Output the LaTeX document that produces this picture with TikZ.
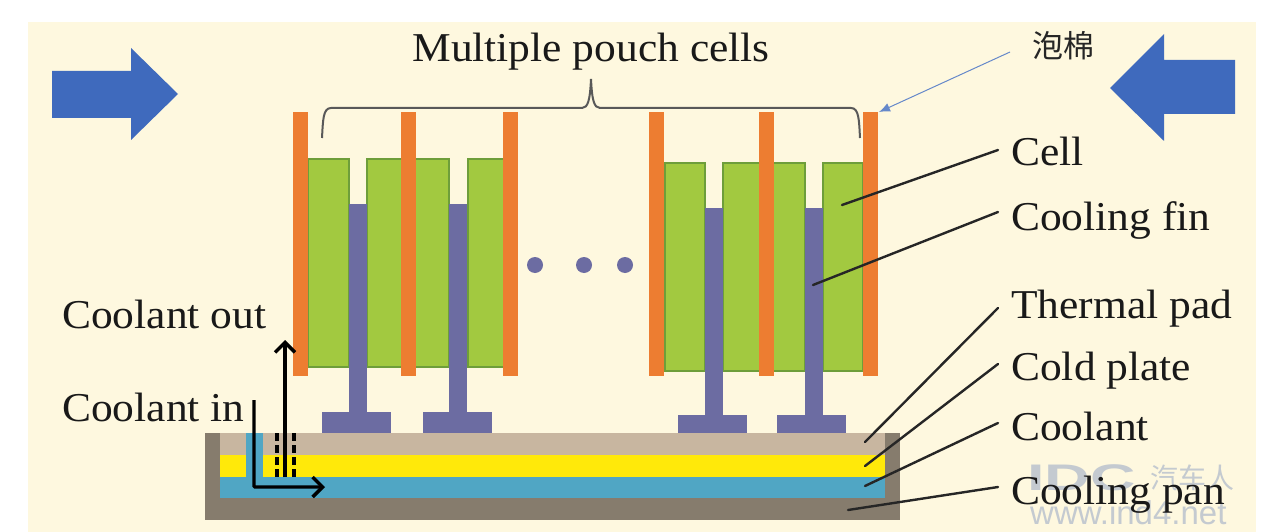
\documentclass[tikz,border=0pt]{standalone}
\usepackage{fontspec}
\setmainfont[FakeStretch=1.06]{Liberation Serif}
\newfontfamily\cjkfont{Noto Sans CJK SC}
\newfontfamily\sitefont{Liberation Sans}
\usetikzlibrary{arrows.meta}
\definecolor{paper}{HTML}{FEF8DF}
\definecolor{foam}{HTML}{ED7D31}
\definecolor{cellgreen}{HTML}{A2C940}
\definecolor{celledge}{HTML}{6E9E3A}
\definecolor{finpurple}{HTML}{6C6CA2}
\definecolor{panbrown}{HTML}{867C6D}
\definecolor{padtan}{HTML}{C8B6A0}
\definecolor{plateyellow}{HTML}{FFE90A}
\definecolor{coolblue}{HTML}{50A6C4}
\definecolor{pushblue}{HTML}{3F6ABD}
\definecolor{markgray}{HTML}{C4CAD0}
\tikzset{
	lbl/.style={inner sep=0pt, anchor=west, font=\fontsize{41}{41}\selectfont, text=black!90},
	leader/.style={draw=black!85, line width=2.4pt, line cap=round},
	flow/.style={draw=black, line width=3.4pt, -{Straight Barb[length=10pt,width=20pt,line width=3.4pt]}},
}
\newcommand{\drawcell}[3]{%
	\fill[cellgreen, draw=celledge, line width=1.6pt] (#1,#3) rectangle (#2,#3+208);
}
\newcommand{\drawfin}[5]{%
	\fill[finpurple] (#1,#3) rectangle (#1+18,#5);
	\fill[finpurple] (#2,#5) rectangle (#2+69,#4);
}
\begin{document}
\begin{tikzpicture}[x=1pt,y=-1pt]
	\useasboundingbox (0,0) rectangle (1263,532);
	\fill[paper] (28,22) rectangle (1256,532);
	% push arrows
	\fill[pushblue] (52,71) -- (131,71) -- (131,48) -- (178,94) -- (131,140) -- (131,118) -- (52,118) -- cycle;
	\fill[pushblue] (1235,60) -- (1164,60) -- (1164,34) -- (1110,88) -- (1164,141) -- (1164,114) -- (1235,114) -- cycle;
	% pouch cells
	\drawcell{308}{349}{159}
	\drawcell{367}{449}{159}
	\drawcell{468}{504}{159}
	\drawcell{665}{705}{163}
	\drawcell{723}{805}{163}
	\drawcell{823}{863}{163}
	\drawfin{349}{322}{204}{434}{412}
	\drawfin{449}{423}{204}{434}{412}
	\drawfin{705}{678}{208}{434}{415}
	\drawfin{805}{777}{208}{437}{415}
	\foreach \x in {293,401,503,649,759,863}{
		\fill[foam] (\x,112) rectangle (\x+15,376);
	}
	\foreach \x in {535,584,625}{
		\fill[finpurple] (\x,265) circle (8);
	}
	% cooling pan
	\fill[panbrown] (205,433) rectangle (900,520);
	\fill[padtan] (220,433) rectangle (885,455);
	\fill[plateyellow] (220,455) rectangle (885,477);
	\fill[coolblue] (220,477) rectangle (885,498);
	\fill[coolblue] (246,433) rectangle (263,477);
	\foreach \x in {277,294}{
		\draw[line width=3.6pt, dash pattern=on 8pt off 4pt] (\x,433) -- (\x,477);
	}
	% brace
	\draw[black!65, line width=2pt] (322,138) .. controls (323,120) and (323,108) .. (331,108) -- (582,108)
		.. controls (588,108) and (590,100) .. (591,79) .. controls (592,100) and (594,108) .. (600,108) -- (851,108)
		.. controls (859,108) and (859,120) .. (860,138);
	% watermark
	\node[inner sep=0pt, anchor=west, text=markgray, font=\sitefont\bfseries\fontsize{37}{37}\selectfont] (logo) at (1027,478) {\scalebox{1.7}[1]{IDC}};
	\node[inner sep=0pt, anchor=west, text=markgray, font=\cjkfont\fontsize{28}{28}\selectfont] (logocn) at (1150,478) {汽车人};
	\node[inner sep=0pt, anchor=west, text=markgray, font=\sitefont\fontsize{33}{33}\selectfont] (site) at (1030,513) {www.ind4.net};
	% labels
	\node[lbl, anchor=center] (title) at (591,52) {Multiple pouch cells};
	\node[inner sep=0pt, font=\cjkfont\fontsize{31}{31}\selectfont, text=black!85] (foamlbl) at (1063,46) {泡棉};
	\node[lbl] (cell) at (1011,151) {Cell};
	\node[lbl] (fin) at (1011,220) {Cooling fin};
	\node[lbl] (pad) at (1011,309) {Thermal pad};
	\node[lbl] (plate) at (1011,371) {Cold plate};
	\node[lbl] (coolant) at (1011,426) {Coolant};
	\node[lbl] (pan) at (1011,495) {Cooling pan};
	\node[lbl] (out) at (62,314) {Coolant out};
	\node[lbl] (in) at (62,407) {Coolant in};
	% leaders
	\coordinate (foamtip) at (879,112);
	\coordinate (celltip) at (842,205);
	\coordinate (fintip) at (813,285);
	\coordinate (padtip) at (865,442);
	\coordinate (platetip) at (865,466);
	\coordinate (coolanttip) at (865,486);
	\coordinate (pantip) at (848,510);
	\draw[draw=pushblue!80, line width=1pt, -{Latex[length=11pt,width=9pt]}] (1010,52) -- (foamtip);
	\draw[leader] (998,150) -- (celltip);
	\draw[leader] (998,212) -- (fintip);
	\draw[leader] (998,308) -- (padtip);
	\draw[leader] (998,364) -- (platetip);
	\draw[leader] (998,423) -- (coolanttip);
	\draw[leader] (998,487) -- (pantip);
	% coolant flow
	\coordinate (inlet) at (254,400);
	\coordinate (bend) at (254,487);
	\coordinate (flowend) at (325,487);
	\coordinate (riser) at (285,477);
	\coordinate (outlet) at (285,340);
	\draw[flow, rounded corners=1pt] (inlet) -- (bend) -- (flowend);
	\draw[flow] (riser) -- (outlet);
\end{tikzpicture}
\end{document}
